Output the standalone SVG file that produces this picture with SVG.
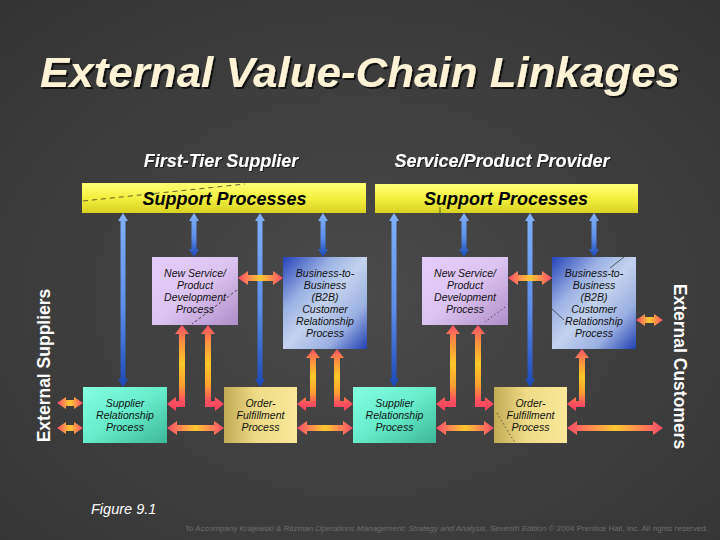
<svg xmlns="http://www.w3.org/2000/svg" width="720" height="540" viewBox="0 0 720 540">
<defs>
<style>
.hdr{font-family:"Liberation Sans",Arial,sans-serif;font-weight:bold;font-style:italic;font-size:18px;fill:#ffffff}
.sup{font-family:"Liberation Sans",Arial,sans-serif;font-weight:bold;font-style:italic;font-size:18px;fill:#000000}
.bx{font-family:"Liberation Sans",Arial,sans-serif;font-style:italic;font-size:10.5px;fill:#111111;text-anchor:middle}
.side{font-family:"Liberation Sans",Arial,sans-serif;font-weight:bold;font-size:17.5px;fill:#ffffff;text-anchor:middle}
.blue{fill:url(#gBlue)}
.oh{fill:url(#gOrH)}
.oe{fill:url(#gOrV)}
.art{fill:none;stroke:#222;stroke-width:0.7}
</style>
<radialGradient id="gBg" cx="0.5" cy="0.55" r="0.75">
<stop offset="0" stop-color="#4a4a4a"/>
<stop offset="1" stop-color="#333333"/>
</radialGradient>
<linearGradient id="gBar" x1="0" y1="0" x2="0" y2="1">
<stop offset="0" stop-color="#ffff78"/>
<stop offset="0.5" stop-color="#f4f03e"/>
<stop offset="1" stop-color="#d8d222"/>
</linearGradient>
<linearGradient id="gBlue" x1="0" y1="0" x2="0" y2="1">
<stop offset="0" stop-color="#82b2fa"/>
<stop offset="0.55" stop-color="#5a8ee8"/>
<stop offset="1" stop-color="#1a48b8"/>
</linearGradient>
<linearGradient id="gOrH" x1="0" y1="0" x2="1" y2="0">
<stop offset="0" stop-color="#ff4a6a"/>
<stop offset="0.25" stop-color="#ff8a50"/>
<stop offset="0.5" stop-color="#ffc830"/>
<stop offset="0.75" stop-color="#ff8a50"/>
<stop offset="1" stop-color="#ff4a6a"/>
</linearGradient>
<linearGradient id="gOrV" x1="0" y1="0" x2="0" y2="1">
<stop offset="0" stop-color="#ff5068"/>
<stop offset="0.2" stop-color="#ff9040"/>
<stop offset="0.45" stop-color="#ffc828"/>
<stop offset="0.7" stop-color="#ffa030"/>
<stop offset="0.88" stop-color="#ff5060"/>
<stop offset="1" stop-color="#ff4060"/>
</linearGradient>
<linearGradient id="gNspd" x1="0" y1="0" x2="1" y2="1">
<stop offset="0" stop-color="#e4ccfc"/>
<stop offset="0.5" stop-color="#dcc4f2"/>
<stop offset="1" stop-color="#ae8ec8"/>
</linearGradient>
<linearGradient id="gB2b" x1="0" y1="0" x2="1" y2="1">
<stop offset="0" stop-color="#2444b8"/>
<stop offset="0.3" stop-color="#9cb2e4"/>
<stop offset="0.5" stop-color="#c4d2ee"/>
<stop offset="0.75" stop-color="#9ab0e2"/>
<stop offset="1" stop-color="#2040b0"/>
</linearGradient>
<linearGradient id="gSup" x1="0" y1="0" x2="1" y2="1">
<stop offset="0" stop-color="#84ffe2"/>
<stop offset="0.5" stop-color="#66ecca"/>
<stop offset="1" stop-color="#3cb898"/>
</linearGradient>
<linearGradient id="gOrd" x1="0" y1="0" x2="1" y2="0">
<stop offset="0" stop-color="#c2aa54"/>
<stop offset="0.45" stop-color="#f0dc88"/>
<stop offset="1" stop-color="#f8e898"/>
</linearGradient>
<filter id="sh" x="-5%" y="-20%" width="110%" height="140%">
<feDropShadow dx="2" dy="2" stdDeviation="0.6" flood-color="#111111" flood-opacity="0.9"/>
</filter>
<filter id="sh2" x="-5%" y="-20%" width="110%" height="140%">
<feDropShadow dx="1" dy="1" stdDeviation="0.5" flood-color="#111111" flood-opacity="0.8"/>
</filter>
</defs>

<rect x="0" y="0" width="720" height="540" fill="url(#gBg)"/>

<g id="title">
<text x="360" y="87" text-anchor="middle" textLength="640" lengthAdjust="spacingAndGlyphs" filter="url(#sh)" style="font-family:'Liberation Sans',Arial,sans-serif;font-weight:bold;font-style:italic;font-size:43px;fill:#fff3d6">External Value-Chain Linkages</text>
</g>

<g id="headers">
<text class="hdr" x="221" y="167" text-anchor="middle" filter="url(#sh2)">First-Tier Supplier</text>
<text class="hdr" x="502" y="167" text-anchor="middle" filter="url(#sh2)">Service/Product Provider</text>
</g>

<g id="support-left">
<rect x="82" y="183" width="284" height="30" fill="url(#gBar)"/>
<line class="art" x1="83" y1="201" x2="245" y2="184" stroke-dasharray="5,4"/>
<text class="sup" x="224.5" y="205" text-anchor="middle">Support Processes</text>
</g>
<g id="support-right">
<rect x="375" y="184" width="263" height="29" fill="url(#gBar)"/>
<line class="art" x1="440" y1="207" x2="440" y2="213"/>
<text class="sup" x="506" y="205" text-anchor="middle">Support Processes</text>
</g>

<g id="connectors">
<path class="blue" d="M123,213 L128,221 L125.5,221 L125.5,379 L128,379 L123,387 L118,379 L120.5,379 L120.5,221 L118,221 Z"/>
<path class="blue" d="M260,213 L265,221 L262.5,221 L262.5,379 L265,379 L260,387 L255,379 L257.5,379 L257.5,221 L255,221 Z"/>
<path class="blue" d="M394,213 L399,221 L396.5,221 L396.5,379 L399,379 L394,387 L389,379 L391.5,379 L391.5,221 L389,221 Z"/>
<path class="blue" d="M530,213 L535,221 L532.5,221 L532.5,379 L535,379 L530,387 L525,379 L527.5,379 L527.5,221 L525,221 Z"/>
<path class="blue" d="M194,213 L199,221 L196.5,221 L196.5,249 L199,249 L194,257 L189,249 L191.5,249 L191.5,221 L189,221 Z"/>
<path class="blue" d="M323,213 L328,221 L325.5,221 L325.5,249 L328,249 L323,257 L318,249 L320.5,249 L320.5,221 L318,221 Z"/>
<path class="blue" d="M464,213 L469,221 L466.5,221 L466.5,249 L469,249 L464,257 L459,249 L461.5,249 L461.5,221 L459,221 Z"/>
<path class="blue" d="M594,213 L599,221 L596.5,221 L596.5,249 L599,249 L594,257 L589,249 L591.5,249 L591.5,221 L589,221 Z"/>

<path class="oh" d="M238,278 L248,271 L248,275 L273,275 L273,271 L283,278 L273,285 L273,281 L248,281 L248,285 Z"/>
<path class="oh" d="M508,278 L518,271 L518,275 L542,275 L542,271 L552,278 L542,285 L542,281 L518,281 L518,285 Z"/>
<path class="oh" d="M636,320 L645,314 L645,317 L654,317 L654,314 L663,320 L654,326 L654,323 L645,323 L645,326 Z"/>
<path class="oh" d="M167,428 L177,421 L177,425 L214,425 L214,421 L224,428 L214,435 L214,431 L177,431 L177,435 Z"/>
<path class="oh" d="M297,428 L307,421 L307,425 L343,425 L343,421 L353,428 L343,435 L343,431 L307,431 L307,435 Z"/>
<path class="oh" d="M436,428 L446,421 L446,425 L484,425 L484,421 L494,428 L484,435 L484,431 L446,431 L446,435 Z"/>
<path class="oh" d="M567,428 L577,421 L577,425 L653,425 L653,421 L663,428 L653,435 L653,431 L577,431 L577,435 Z"/>
<path class="oh" d="M57,403 L66,397 L66,400 L74,400 L74,397 L83,403 L74,409 L74,406 L66,406 L66,409 Z"/>
<path class="oh" d="M57,428 L66,422 L66,425 L74,425 L74,422 L83,428 L74,434 L74,431 L66,431 L66,434 Z"/>

<path class="oe" d="M182,325 L189,334 L185,334 L185,407 L176,407 L176,411 L167,404 L176,397 L176,401 L179,401 L179,334 L175,334 Z"/>
<path class="oe" d="M208,325 L215,334 L211,334 L211,401 L215,401 L215,397 L224,404 L215,411 L215,407 L205,407 L205,334 L201,334 Z"/>
<path class="oe" d="M313,349 L320,358 L316,358 L316,407 L306,407 L306,411 L297,404 L306,397 L306,401 L310,401 L310,358 L306,358 Z"/>
<path class="oe" d="M337,349 L344,358 L340,358 L340,401 L344,401 L344,397 L353,404 L344,411 L344,407 L334,407 L334,358 L330,358 Z"/>
<path class="oe" d="M453,325 L460,334 L456,334 L456,407 L445,407 L445,411 L436,404 L445,397 L445,401 L450,401 L450,334 L446,334 Z"/>
<path class="oe" d="M478,325 L485,334 L481,334 L481,401 L485,401 L485,397 L494,404 L485,411 L485,407 L475,407 L475,334 L471,334 Z"/>
<path class="oe" d="M582,349 L589,358 L585,358 L585,407 L576,407 L576,411 L567,404 L576,397 L576,401 L579,401 L579,358 L575,358 Z"/>
</g>

<g id="nspd-1">
<rect x="152" y="257" width="86" height="68" fill="url(#gNspd)"/>
<line class="art" x1="237" y1="290" x2="192" y2="324" stroke-dasharray="3,2"/>
<text class="bx" x="195" y="277">New Service/</text>
<text class="bx" x="195" y="289">Product</text>
<text class="bx" x="195" y="301">Development</text>
<text class="bx" x="195" y="313">Process</text>
</g>

<g id="b2b-1">
<rect x="283" y="257" width="84" height="92" fill="url(#gB2b)"/>
<text class="bx" x="325" y="277">Business-to-</text>
<text class="bx" x="325" y="289">Business</text>
<text class="bx" x="325" y="301">(B2B)</text>
<text class="bx" x="325" y="313">Customer</text>
<text class="bx" x="325" y="325">Relationship</text>
<text class="bx" x="325" y="337">Process</text>
</g>

<g id="supplier-1">
<rect x="83" y="387" width="84" height="56" fill="url(#gSup)"/>
<text class="bx" x="125" y="407">Supplier</text>
<text class="bx" x="125" y="419">Relationship</text>
<text class="bx" x="125" y="431">Process</text>
</g>

<g id="order-1">
<rect x="224" y="387" width="73" height="56" fill="url(#gOrd)"/>
<text class="bx" x="260.5" y="407">Order-</text>
<text class="bx" x="260.5" y="419">Fulfillment</text>
<text class="bx" x="260.5" y="431">Process</text>
</g>

<g id="nspd-2">
<rect x="422" y="257" width="86" height="68" fill="url(#gNspd)"/>
<line class="art" x1="505" y1="307" x2="485" y2="322" stroke-dasharray="1.5,2.5"/>
<text class="bx" x="465" y="277">New Service/</text>
<text class="bx" x="465" y="289">Product</text>
<text class="bx" x="465" y="301">Development</text>
<text class="bx" x="465" y="313">Process</text>
</g>

<g id="b2b-2">
<rect x="552" y="257" width="84" height="92" fill="url(#gB2b)"/>
<line class="art" x1="624" y1="257" x2="610" y2="268"/>
<line class="art" x1="552" y1="309" x2="564" y2="320"/>
<text class="bx" x="594" y="277">Business-to-</text>
<text class="bx" x="594" y="289">Business</text>
<text class="bx" x="594" y="301">(B2B)</text>
<text class="bx" x="594" y="313">Customer</text>
<text class="bx" x="594" y="325">Relationship</text>
<text class="bx" x="594" y="337">Process</text>
</g>

<g id="supplier-2">
<rect x="353" y="387" width="83" height="56" fill="url(#gSup)"/>
<text class="bx" x="394.5" y="407">Supplier</text>
<text class="bx" x="394.5" y="419">Relationship</text>
<text class="bx" x="394.5" y="431">Process</text>
</g>

<g id="order-2">
<rect x="494" y="387" width="73" height="56" fill="url(#gOrd)"/>
<line class="art" x1="497" y1="413" x2="515" y2="443" stroke-dasharray="1.5,2.5"/>
<text class="bx" x="530.5" y="407">Order-</text>
<text class="bx" x="530.5" y="419">Fulfillment</text>
<text class="bx" x="530.5" y="431">Process</text>
</g>

<g id="external-suppliers">
<text class="side" transform="translate(50,365.5) rotate(-90)" x="0" y="0">External Suppliers</text>
</g>
<g id="external-customers">
<text class="side" transform="translate(673.5,366.5) rotate(90)" x="0" y="0">External Customers</text>
</g>

<g id="footer">
<text x="91" y="514" style="font-family:'Liberation Sans',Arial,sans-serif;font-style:italic;font-size:14.5px;fill:#ffffff">Figure 9.1</text>
<text x="185" y="531" textLength="523" lengthAdjust="spacingAndGlyphs" style="font-family:'Liberation Sans',Arial,sans-serif;font-size:7px;fill:#6e6e6e">To Accompany Krajewski &amp; Ritzman <tspan font-style="italic">Operations Management: Strategy and Analysis, Seventh Edition</tspan> © 2004 Prentice Hall, Inc. All rights reserved.</text>
</g>
</svg>
